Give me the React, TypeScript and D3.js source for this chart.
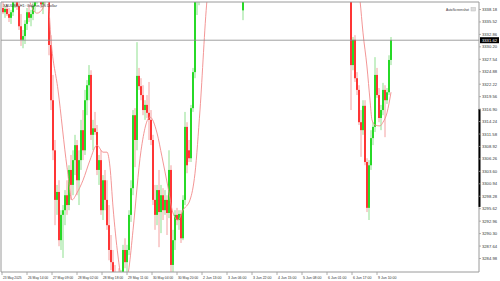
import React from "react";
import * as d3 from "d3";

const TITLE = "XAUUSD,H1: Gold vs US Dollar";
const EA_LABEL = "AutoScreenshot";
const CURRENT_PRICE = 3331.62;
const PRICE_TICKS = [3338.18, 3335.52, 3332.86, 3330.2, 3327.54, 3324.88, 3322.22, 3319.56, 3316.9, 3314.24, 3311.58, 3308.92, 3306.26, 3303.6, 3300.94, 3298.28, 3295.62, 3292.96, 3290.3, 3287.64, 3284.98];
const TIME_LABELS = ["23 May 2025", "26 May 14:00", "27 May 09:00", "28 May 02:00", "28 May 18:00", "29 May 11:00", "30 May 04:00", "30 May 20:00", "2 Jun 13:00", "3 Jun 06:00", "3 Jun 22:00", "4 Jun 15:00", "5 Jun 08:00", "6 Jun 01:00", "6 Jun 17:00", "9 Jun 10:00"];
const TIME_LABEL_BARS = [-0.5, 12, 24.5, 37, 49.5, 62, 74.5, 87, 99.5, 112, 124.5, 137, 149.5, 162, 174.5, 187];
const AXIS_MARK = [3316.9, 3296.0];

// [open, high, low, close]
const OHLC: [number, number, number, number][] = [
  [3338.5, 3339.8, 3337.2, 3337.6], [3337.6, 3338.9, 3336.4, 3338.3], [3338.3, 3339.3, 3336.8, 3337.2], [3337.2, 3338.5, 3335.5, 3336.4],
  [3336.4, 3338.1, 3335.1, 3337.6], [3337.6, 3340.6, 3336.8, 3339.8], [3339.8, 3341.9, 3338.5, 3341.1], [3341.1, 3342.3, 3338.1, 3338.9],
  [3338.9, 3340.2, 3333.8, 3334.6], [3334.6, 3337.2, 3330.4, 3331.7], [3331.7, 3333.8, 3329.9, 3332.5], [3332.5, 3335.9, 3330.8, 3335.1],
  [3335.1, 3338.5, 3333.8, 3337.6], [3337.6, 3339.3, 3335.5, 3336.4], [3336.4, 3338.1, 3334.6, 3337.2], [3337.2, 3339.8, 3335.9, 3338.9],
  [3338.9, 3341.5, 3337.6, 3340.6], [3340.6, 3342.8, 3339.3, 3341.9], [3341.9, 3343.6, 3339.8, 3342.8], [3342.8, 3343.2, 3338.5, 3339.3],
  [3339.3, 3341.5, 3337.2, 3340.2], [3340.2, 3344.5, 3339.3, 3343.6], [3343.6, 3346.6, 3341.1, 3344.5], [3344.5, 3345.5, 3328.4, 3330.6],
  [3330.6, 3332.7, 3316.7, 3318.8], [3318.8, 3324.2, 3306.0, 3308.1], [3308.1, 3310.3, 3292.1, 3297.5], [3297.5, 3300.7, 3294.3, 3299.2],
  [3299.2, 3301.7, 3287.6, 3288.9], [3288.9, 3295.3, 3286.8, 3294.3], [3294.3, 3296.4, 3285.1, 3295.3], [3295.3, 3299.6, 3292.1, 3298.5],
  [3298.5, 3301.7, 3294.3, 3296.4], [3296.4, 3304.9, 3295.3, 3303.9], [3303.9, 3307.1, 3297.5, 3300.7], [3300.7, 3308.1, 3298.5, 3306.0],
  [3306.0, 3311.4, 3302.8, 3309.2], [3309.2, 3310.3, 3298.5, 3301.7], [3301.7, 3308.1, 3296.4, 3306.0], [3306.0, 3314.6, 3303.9, 3312.4],
  [3312.4, 3316.7, 3306.0, 3308.1], [3308.1, 3321.0, 3307.1, 3318.8], [3318.8, 3323.1, 3315.6, 3322.0], [3322.0, 3326.3, 3318.8, 3324.2],
  [3324.2, 3325.2, 3310.3, 3311.4], [3311.4, 3314.6, 3308.1, 3312.8], [3312.8, 3316.3, 3311.4, 3312.0], [3312.0, 3313.5, 3302.8, 3303.9],
  [3303.9, 3307.1, 3300.7, 3306.0], [3306.0, 3308.1, 3294.3, 3295.3], [3295.3, 3302.8, 3293.2, 3301.7], [3301.7, 3303.9, 3295.3, 3297.5],
  [3297.5, 3301.7, 3291.1, 3292.1], [3292.1, 3296.4, 3284.6, 3286.8], [3286.8, 3290.0, 3282.5, 3284.2], [3284.2, 3286.8, 3279.3, 3280.4],
  [3280.4, 3283.6, 3277.2, 3278.2], [3278.2, 3281.4, 3276.1, 3279.3], [3279.3, 3282.9, 3276.1, 3277.2], [3277.2, 3282.5, 3276.1, 3280.4],
  [3280.4, 3287.9, 3279.3, 3286.8], [3286.8, 3289.3, 3282.9, 3284.2], [3284.2, 3287.9, 3281.4, 3286.8], [3286.8, 3295.3, 3285.7, 3294.3],
  [3294.3, 3301.7, 3292.8, 3300.0], [3300.0, 3316.7, 3298.5, 3315.6], [3315.6, 3317.1, 3304.5, 3310.3], [3310.3, 3331.2, 3308.1, 3324.0],
  [3324.0, 3325.7, 3321.0, 3321.8], [3321.8, 3323.5, 3318.8, 3319.9], [3319.9, 3322.0, 3315.6, 3316.7], [3316.7, 3318.8, 3314.6, 3317.8],
  [3317.8, 3319.9, 3315.0, 3316.1], [3316.1, 3322.7, 3310.3, 3314.6], [3314.6, 3316.7, 3309.2, 3310.3], [3310.3, 3311.4, 3296.4, 3297.5],
  [3297.5, 3300.7, 3291.1, 3294.3], [3294.3, 3300.7, 3292.1, 3299.6], [3299.6, 3303.9, 3287.4, 3294.9], [3294.9, 3300.7, 3290.4, 3298.5],
  [3298.5, 3300.0, 3293.2, 3295.3], [3295.3, 3299.6, 3294.3, 3297.5], [3297.5, 3298.5, 3290.0, 3294.7], [3294.7, 3308.1, 3293.6, 3303.9],
  [3303.9, 3304.9, 3281.4, 3283.6], [3283.6, 3291.1, 3280.4, 3288.9], [3288.9, 3295.3, 3286.8, 3294.3], [3294.3, 3295.8, 3292.1, 3293.2],
  [3293.2, 3295.3, 3291.1, 3294.5], [3294.5, 3295.3, 3288.3, 3289.3], [3289.3, 3298.5, 3288.9, 3297.5], [3297.5, 3316.3, 3296.4, 3313.1],
  [3313.1, 3314.1, 3303.2, 3304.9], [3308.1, 3310.3, 3305.6, 3306.4], [3306.4, 3317.8, 3305.6, 3317.1], [3317.1, 3325.7, 3316.3, 3324.8],
  [3324.8, 3342.3, 3323.5, 3341.3], [3341.3, 3348.7, 3337.0, 3346.6], [3346.6, 3350.0, 3339.1, 3349.0], [3349.0, 3352.0, 3345.0, 3350.5],
  [3350.5, 3356.0, 3349.0, 3354.8], [3354.8, 3358.5, 3352.0, 3357.2], [3357.2, 3362.0, 3355.5, 3360.4], [3360.4, 3366.0, 3359.0, 3364.5],
  [3364.5, 3370.5, 3362.0, 3368.8], [3368.8, 3374.0, 3366.5, 3371.2], [3371.2, 3376.5, 3369.0, 3374.0], [3374.0, 3378.0, 3370.5, 3372.6],
  [3372.6, 3376.0, 3368.0, 3369.5], [3369.5, 3373.0, 3365.0, 3367.0], [3367.0, 3371.5, 3364.5, 3370.2], [3370.2, 3384.0, 3368.0, 3381.5],
  [3381.5, 3390.0, 3378.0, 3386.2], [3386.2, 3392.5, 3380.0, 3382.4], [3382.4, 3385.0, 3372.0, 3374.6], [3374.6, 3377.0, 3365.0, 3366.8],
  [3366.8, 3369.5, 3358.0, 3360.2], [3360.2, 3363.0, 3352.0, 3354.5], [3354.5, 3357.0, 3346.0, 3348.2], [3348.2, 3350.5, 3342.0, 3344.6],
  [3338.0, 3347.7, 3335.9, 3345.5], [3345.5, 3352.0, 3344.0, 3350.8], [3350.8, 3356.5, 3349.0, 3355.0], [3355.0, 3359.0, 3352.5, 3357.4],
  [3357.4, 3361.5, 3354.0, 3355.8], [3355.8, 3359.0, 3351.5, 3353.2], [3353.2, 3358.0, 3352.0, 3356.9], [3356.9, 3362.5, 3355.0, 3361.3],
  [3361.3, 3365.0, 3358.5, 3359.7], [3359.7, 3363.0, 3356.0, 3362.1], [3362.1, 3368.5, 3360.0, 3367.4], [3367.4, 3373.0, 3365.5, 3371.8],
  [3371.8, 3376.0, 3368.0, 3369.3], [3369.3, 3372.5, 3364.0, 3366.0], [3366.0, 3370.0, 3362.5, 3368.7], [3368.7, 3374.5, 3367.0, 3373.2],
  [3373.2, 3378.0, 3370.0, 3375.6], [3375.6, 3379.5, 3371.5, 3373.1], [3373.1, 3376.0, 3368.0, 3370.4], [3370.4, 3374.0, 3367.5, 3372.9],
  [3372.9, 3378.5, 3371.0, 3377.3], [3377.3, 3383.0, 3375.0, 3381.6], [3381.6, 3386.5, 3378.5, 3384.2], [3384.2, 3388.0, 3380.0, 3382.0],
  [3382.0, 3385.5, 3377.0, 3379.4], [3379.4, 3383.0, 3376.0, 3381.8], [3381.8, 3390.0, 3380.0, 3388.5], [3388.5, 3397.0, 3386.0, 3395.2],
  [3395.2, 3403.5, 3392.0, 3399.8], [3399.8, 3402.0, 3388.0, 3390.4], [3390.4, 3393.0, 3378.0, 3380.6], [3380.6, 3384.0, 3370.5, 3373.0],
  [3373.0, 3377.5, 3364.0, 3366.4], [3366.4, 3370.0, 3358.0, 3361.0], [3361.0, 3366.5, 3356.5, 3364.8], [3364.8, 3369.0, 3360.0, 3362.3],
  [3362.3, 3366.0, 3357.0, 3359.5], [3359.5, 3364.5, 3357.5, 3363.1], [3363.1, 3368.0, 3361.0, 3366.7], [3366.7, 3371.5, 3364.0, 3369.9],
  [3369.9, 3374.5, 3367.0, 3372.4], [3372.4, 3376.0, 3368.5, 3370.0], [3370.0, 3373.5, 3365.0, 3367.2], [3367.2, 3371.0, 3363.5, 3369.6],
  [3369.6, 3373.5, 3366.0, 3371.3], [3371.3, 3375.0, 3367.5, 3369.0], [3369.0, 3372.0, 3362.0, 3364.1], [3364.1, 3367.5, 3358.0, 3360.5],
  [3360.5, 3364.0, 3355.0, 3357.8], [3357.8, 3361.5, 3353.0, 3355.2], [3355.2, 3358.0, 3350.0, 3352.6], [3352.6, 3356.0, 3348.5, 3350.1],
  [3350.1, 3353.5, 3346.0, 3348.0], [3348.0, 3350.9, 3341.3, 3342.3], [3342.3, 3344.5, 3316.7, 3326.3], [3326.3, 3332.3, 3325.2, 3331.7],
  [3331.7, 3332.7, 3322.7, 3323.5], [3323.5, 3324.8, 3319.9, 3321.0], [3321.0, 3322.0, 3313.5, 3314.1], [3314.1, 3316.7, 3306.7, 3312.4],
  [3312.4, 3318.8, 3311.4, 3317.6], [3317.6, 3318.8, 3304.9, 3305.6], [3305.6, 3306.4, 3294.9, 3295.8], [3295.8, 3306.0, 3293.2, 3304.9],
  [3304.9, 3312.4, 3303.9, 3310.7], [3310.7, 3314.1, 3309.2, 3313.1], [3313.1, 3328.0, 3312.0, 3324.2], [3324.2, 3325.7, 3319.3, 3319.9],
  [3319.9, 3321.4, 3314.1, 3315.0], [3315.0, 3317.8, 3312.4, 3316.7], [3316.7, 3322.5, 3315.6, 3321.0], [3321.0, 3322.0, 3310.9, 3318.8],
  [3318.8, 3321.4, 3318.0, 3320.5], [3320.5, 3328.4, 3319.9, 3327.4], [3327.4, 3332.3, 3326.3, 3331.62],
];

// moving average: [bar index, price]
const MA_POINTS: [number, number][] = [
  [12.5, 3341.3], [14, 3339.1], [17, 3337.4], [20, 3338.5], [21, 3340.4], [21.8, 3341.0], [22.6, 3340.0],
  [24, 3331.7], [27.5, 3321.0], [32, 3304.5], [34.5, 3297.5], [37, 3299.0], [40, 3301.7], [43.5, 3306.0],
  [47, 3309.2], [50, 3307.7], [52, 3307.7], [53.5, 3304.5], [55, 3296.0], [57.5, 3285.5], [59, 3281.0],
  [61, 3279.0], [63, 3283.0], [65, 3291.0], [69, 3308.0], [73.5, 3315.2], [77, 3311.8], [79.5, 3306.7],
  [82.5, 3300.2], [85, 3294.7], [87.5, 3293.2], [90, 3295.3], [93.5, 3297.5], [96, 3303.2], [98.5, 3316.7],
  [102, 3340.2], [104, 3347.0], [110, 3362.0], [120, 3360.0], [130, 3358.0], [150, 3385.0], [160, 3370.0],
  [170, 3360.0], [176, 3350.0], [178.5, 3340.2], [180, 3333.2], [182, 3325.9], [183.5, 3318.8], [184.5, 3314.6],
  [186, 3313.5], [188.5, 3313.3], [190, 3314.1], [192, 3316.1], [194, 3320.5],
];

const W = 500;
const H = 281;
const PL = 1;
const PR = 479;
const PT = 2;
const PB = 272;

export default function App() {
  const x = d3.scaleLinear().domain([0, OHLC.length - 1]).range([3, 3 + 2 * (OHLC.length - 1)]);
  const y = d3.scaleLinear().domain([3284.98, 3338.18]).range([258.5, 9.5]);
  const maLine = d3
    .line<[number, number]>()
    .x((d) => x(d[0]))
    .y((d) => y(d[1]))
    .curve(d3.curveMonotoneX);
  const font = "'Liberation Sans', Arial, sans-serif";
  const bull = "#00d400";
  const bear = "#ff1010";
  const bullWick = "#8fe08f";
  const bearWick = "#f4a0a0";
  return (
    <div style={{ position: "fixed", left: 0, top: 0, width: W, height: H, background: "#fff" }}>
      <svg width={W} height={H} viewBox={`0 0 ${W} ${H}`} style={{ display: "block" }}>
        <defs>
          <clipPath id="plot">
            <rect x={PL} y={PT} width={PR - PL} height={PB - PT} />
          </clipPath>
        </defs>
        <rect x={0} y={0} width={W} height={H} fill="#fff" />
        <g clipPath="url(#plot)">
          {OHLC.map((d, i) => {
            const [o, h, l, c] = d;
            const up = c >= o;
            const cx = x(i);
            const top = y(Math.max(o, c));
            const bot = y(Math.min(o, c));
            return (
              <g key={i}>
                <line x1={cx} x2={cx} y1={y(h)} y2={y(l)} stroke={up ? bullWick : bearWick} strokeWidth={1} />
                <rect x={cx - 0.8} y={top} width={1.6} height={Math.max(0.8, bot - top)} fill={up ? bull : bear} />
              </g>
            );
          })}
          <path d={maLine(MA_POINTS) || ""} fill="none" stroke="#f28a8a" strokeWidth={0.9} />
          <line x1={PL} x2={PR} y1={y(CURRENT_PRICE)} y2={y(CURRENT_PRICE)} stroke="#888" strokeWidth={0.8} />
        </g>
        <line x1={PL} x2={PR} y1={PT} y2={PT} stroke="#9a9a9a" strokeWidth={1} />
        <line x1={PL} x2={PL} y1={PT} y2={PB} stroke="#9a9a9a" strokeWidth={1} />
        <line x1={PR} x2={PR} y1={PT} y2={PB} stroke="#9a9a9a" strokeWidth={1} />
        <line x1={PL} x2={PR} y1={PB} y2={PB} stroke="#9a9a9a" strokeWidth={1} />
        <rect x={PR - 0.5} y={y(AXIS_MARK[0])} width={2} height={y(AXIS_MARK[1]) - y(AXIS_MARK[0])} fill="#000" />
        {PRICE_TICKS.map((p) => (
          <g key={p}>
            <line x1={PR} x2={PR + 2} y1={y(p)} y2={y(p)} stroke="#9a9a9a" strokeWidth={0.8} />
            <text x={PR + 3} y={y(p)} dy="0.35em" fontSize={4.4} fontFamily={font} fill="#333" textLength={15} lengthAdjust="spacingAndGlyphs">
              {p.toFixed(2)}
            </text>
          </g>
        ))}
        <rect x={PR + 1} y={y(CURRENT_PRICE) - 3} width={19} height={6} fill="#000" />
        <text x={PR + 3} y={y(CURRENT_PRICE)} dy="0.35em" fontSize={4.4} fontFamily={font} fill="#fff" textLength={15} lengthAdjust="spacingAndGlyphs">
          {CURRENT_PRICE.toFixed(2)}
        </text>
        {TIME_LABELS.map((t, i) => {
          const lx = x(TIME_LABEL_BARS[i]);
          return (
            <g key={t}>
              <line x1={lx} x2={lx} y1={PB} y2={PB + 3} stroke="#9a9a9a" strokeWidth={0.8} />
              <text x={lx + 1} y={PB + 6.5} fontSize={4.2} fontFamily={font} fill="#333" textLength={t.length * 1.68} lengthAdjust="spacingAndGlyphs">
                {t}
              </text>
            </g>
          );
        })}
        <text x={3} y={7} fontSize={4.4} fontFamily={font} fill="#333" textLength={54} lengthAdjust="spacingAndGlyphs">
          {TITLE}
        </text>
        <text x={446} y={10.5} fontSize={4.4} fontFamily={font} fill="#333" textLength={23} lengthAdjust="spacingAndGlyphs">
          {EA_LABEL}
        </text>
        <rect x={471} y={7.5} width={4.5} height={3.5} fill="#ddd" stroke="#bbb" strokeWidth={0.5} />
      </svg>
    </div>
  );
}
